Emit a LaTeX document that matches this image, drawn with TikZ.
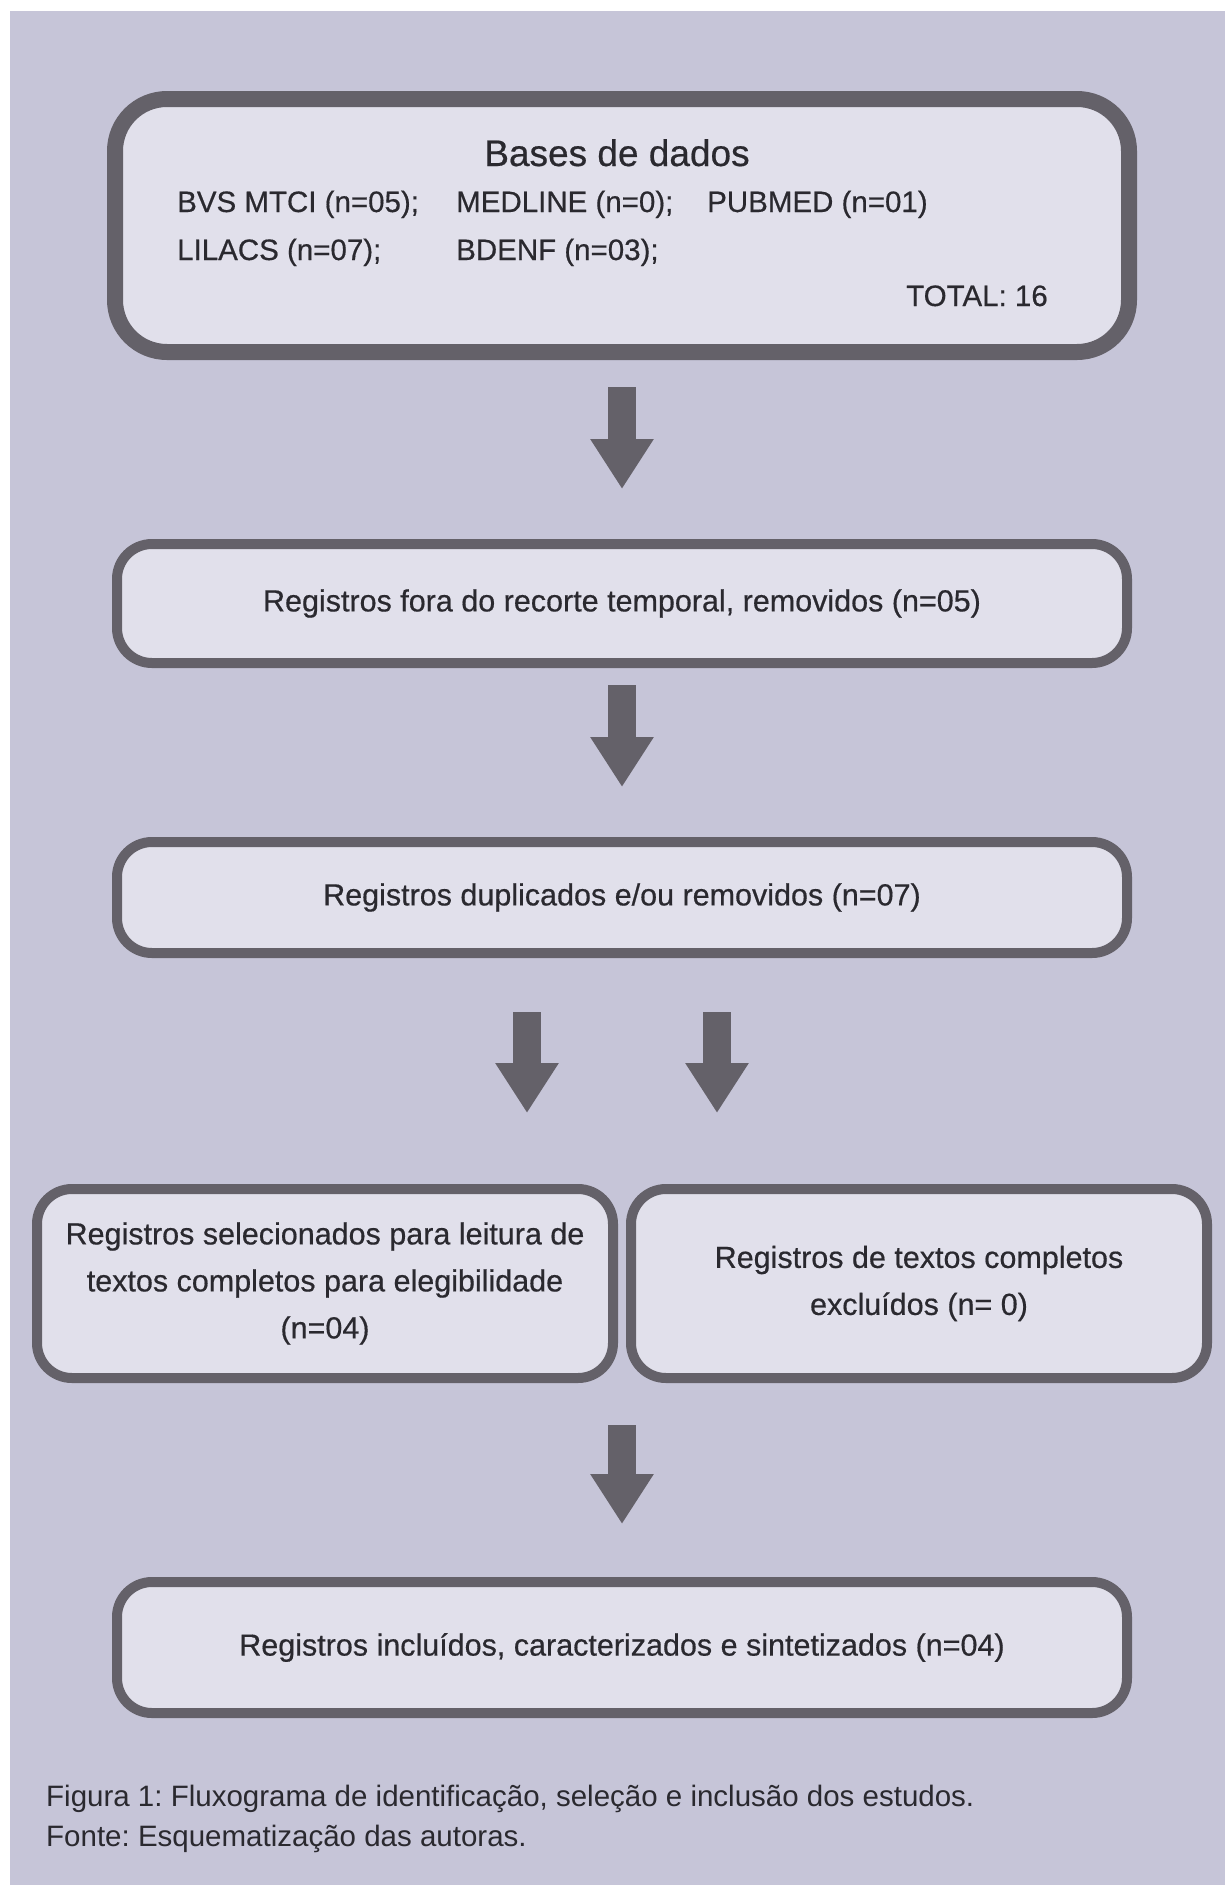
\documentclass[tikz,border=0pt]{standalone}
\usepackage{fontspec}
\setmainfont{Liberation Sans}
\newfontfamily\boxfont{Liberation Sans}[FakeBold=0.5]
\usetikzlibrary{arrows.meta,positioning,calc}

\definecolor{panelbg}{HTML}{C6C5D8}
\definecolor{boxfill}{HTML}{E1E0EB}
\definecolor{boxline}{HTML}{646169}
\definecolor{txtdark}{HTML}{2A292F}

\frenchspacing
\begin{document}
\begin{tikzpicture}[
    x=1pt, y=-1pt,
    every node/.style={
        text=txtdark,
        font=\boxfont\fontsize{30.5}{47}\selectfont
    },
    stage/.style={
        rectangle,
        draw=boxline,
        fill=boxfill,
        line width=10pt,
        rounded corners=35pt,
        align=center,
        inner sep=0pt
    },
    dbentry/.style={
        anchor=base west,
        inner sep=0pt,
        font=\boxfont\fontsize{29.5}{36}\selectfont
    },
    capline/.style={
        anchor=base west,
        inner sep=0pt,
        font=\fontsize{29.5}{36}\selectfont
    },
    flow/.style={
        -{Triangle[length=50pt,width=60pt]},
        line width=28pt,
        draw=boxline
    }
]

% Background
\useasboundingbox (0,0) rectangle (1225,1885);
\fill[white] (0,0) rectangle (1225,1885);
\fill[panelbg] (10,11) rectangle (1225,1885);

% Databases
\node[stage, line width=16pt, rounded corners=52pt,
      minimum width=1014pt, minimum height=253pt] (db) at (622,225.5) {};
\node[anchor=base, inner sep=0pt, font=\boxfont\fontsize{37}{44}\selectfont]
    (dbtitle) at (617,166) {Bases de dados};
\node[dbentry] (bvs) at (177,212) {BVS MTCI (n=05);};
\node[dbentry] (medline) at (456,212) {MEDLINE (n=0);};
\node[dbentry] (pubmed) at (707,212) {PUBMED (n=01)};
\node[dbentry] (lilacs) at (177,260) {LILACS (n=07);};
\node[dbentry] (bdenf) at (456,260) {BDENF (n=03);};
\node[dbentry] (total) at (906,306) {TOTAL: 16};

% Screening steps
\node[stage, minimum width=1010pt, minimum height=119pt] (temporal) at (622,603.5)
    {Registros fora do recorte temporal, removidos (n=05)};
\node[stage, minimum width=1010pt, minimum height=111pt] (dup) at (622,897.5)
    {Registros duplicados e/ou removidos (n=07)};
\node[stage, minimum width=576pt, minimum height=189pt] (sel) at (325,1283.5)
    {Registros selecionados para leitura de\\textos completos para elegibilidade\\(n=04)};
\node[stage, minimum width=576pt, minimum height=189pt] (excl) at (919,1283.5)
    {Registros de textos completos\\excluídos (n= 0)};
\node[stage, minimum width=1010pt, minimum height=131pt] (incl) at (622,1647.5)
    {Registros incluídos, caracterizados e sintetizados (n=04)};

% Arrows
\draw[flow] ([yshift=-27pt]db.south) -- ([yshift=50pt]temporal.north);
\draw[flow] ([yshift=-17pt]temporal.south) -- ([yshift=50pt]dup.north);
\draw[flow] ([xshift=-95pt,yshift=-54pt]dup.south) -- ([xshift=202pt,yshift=71pt]sel.north);
\draw[flow] ([xshift=95pt,yshift=-54pt]dup.south) -- ([xshift=-202pt,yshift=71pt]excl.north);
\draw[flow] ($(sel.south -| incl.north)+(0,42)$) -- ([yshift=53pt]incl.north);

% Caption
\node[capline] (figcap) at (46,1806)
    {Figura 1: Fluxograma de identificação, seleção e inclusão dos estudos.};
\node[capline] (srccap) at (46,1846) {Fonte: Esquematização das autoras.};

\end{tikzpicture}
\end{document}
